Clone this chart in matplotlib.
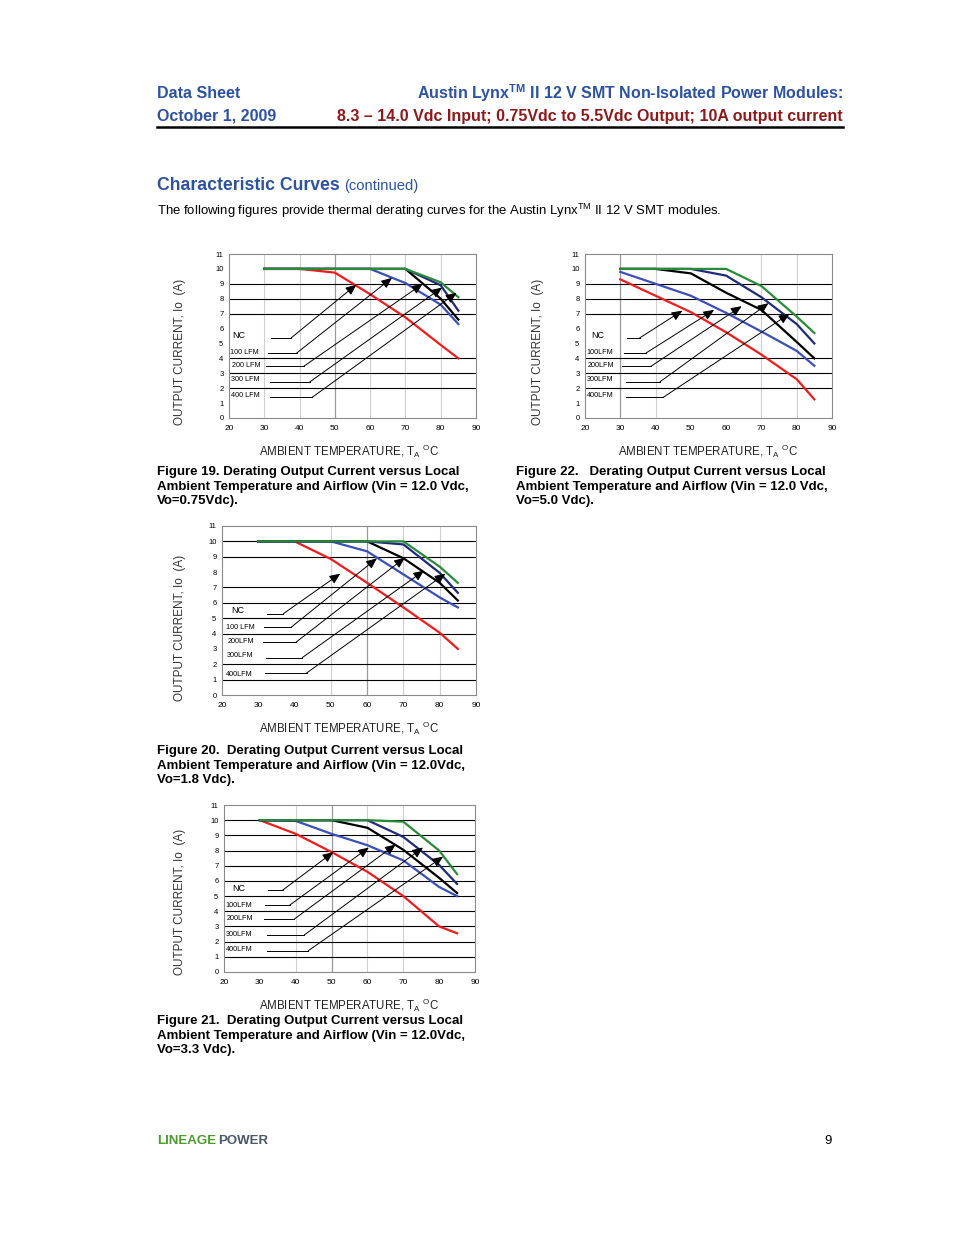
import matplotlib
matplotlib.use('Agg')
import matplotlib.pyplot as plt
from matplotlib.lines import Line2D

plt.rcParams['font.family'] = ['Liberation Sans', 'DejaVu Sans']
plt.rcParams['mathtext.fontset'] = 'custom'
plt.rcParams['mathtext.rm'] = 'Liberation Sans'
plt.rcParams['mathtext.bf'] = 'Liberation Sans:bold'

# temperatures shared by every curve (deg C)
temps = [30, 40, 50, 60, 70, 80, 85]
labels_space = ['NC', '100 LFM', '200 LFM', '300 LFM', '400 LFM']
labels_tight = ['NC', '100LFM', '200LFM', '300LFM', '400LFM']

# Figure 19, Vo = 0.75 V
f19_nc = [10, 10, 9.75, 8.3, 6.75, 4.9, 4.0]
f19_100 = [10, 10, 10, 10, 9.05, 7.6, 6.3]
f19_200 = [10, 10, 10, 10, 10, 8.0, 6.6]
f19_300 = [10, 10, 10, 10, 10, 8.9, 7.2]
f19_400 = [10, 10, 10, 10, 10, 9.1, 8.1]

# Figure 22, Vo = 5.0 V
f22_nc = [9.3, 8.2, 7.1, 5.75, 4.25, 2.6, 1.25]
f22_100 = [9.8, 9.0, 8.2, 7.05, 5.8, 4.5, 3.5]
f22_200 = [10, 10, 9.7, 8.4, 7.25, 5.1, 4.0]
f22_300 = [10, 10, 10, 9.55, 8.1, 6.3, 5.0]
f22_400 = [10, 10, 10, 10, 8.85, 6.8, 5.7]

# Figure 20, Vo = 1.8 V
f20_nc = [10, 10, 8.85, 7.3, 5.7, 4.05, 3.0]
f20_100 = [10, 10, 10, 9.35, 7.85, 6.35, 5.7]
f20_200 = [10, 10, 10, 10, 8.9, 7.3, 6.15]
f20_300 = [10, 10, 10, 10, 9.8, 7.95, 6.65]
f20_400 = [10, 10, 10, 10, 10, 8.35, 7.3]

# Figure 21, Vo = 3.3 V
f21_nc = [10, 9.1, 7.9, 6.6, 5.0, 3.0, 2.55]
f21_100 = [10, 9.95, 9.1, 8.35, 7.35, 5.6, 5.0]
f21_200 = [10, 10, 10, 9.5, 8.05, 6.2, 5.2]
f21_300 = [10, 10, 10, 10, 8.9, 7.05, 5.8]
f21_400 = [10, 10, 10, 10, 9.9, 8.0, 6.45]

# arrow callouts: label line y, line start/end x, arrow tip
f19_line_y = [5.37, 4.36, 3.47, 2.42, 1.39]
f19_line_x0 = [32.0, 31.1, 30.6, 31.5, 31.5]
f19_line_x1 = [37.6, 39.2, 41.2, 42.9, 43.6]
f19_tip_x = [56.1, 66.2, 74.9, 80.4, 84.5]
f19_tip_y = [8.95, 9.4, 9.0, 8.75, 8.4]
f19_text_x = [21.0, 20.2, 20.8, 20.5, 20.5]
f19_text_y = [5.5, 4.4, 3.55, 2.55, 1.5]

f22_line_y = [5.37, 4.36, 3.47, 2.42, 1.39]
f22_line_x0 = [31.9, 31.0, 30.6, 31.5, 31.5]
f22_line_x1 = [35.5, 37.3, 38.7, 41.2, 42.2]
f22_tip_x = [47.6, 56.6, 64.4, 72.0, 78.0]
f22_tip_y = [7.2, 7.25, 7.5, 7.7, 7.0]
f22_text_x = [21.8, 20.4, 20.7, 20.4, 20.4]
f22_text_y = [5.5, 4.4, 3.55, 2.55, 1.5]

f20_line_y = [5.29, 4.4, 3.42, 2.43, 1.43]
f20_line_x0 = [32.4, 31.5, 31.2, 32.1, 31.9]
f20_line_x1 = [36.9, 39.0, 40.3, 42.1, 43.3]
f20_tip_x = [52.6, 62.7, 70.4, 75.7, 81.6]
f20_tip_y = [7.9, 8.9, 8.94, 8.1, 7.9]
f20_text_x = [22.6, 21.0, 21.5, 21.2, 21.2]
f20_text_y = [5.53, 4.4, 3.5, 2.55, 1.35]

f21_line_y = [5.4, 4.4, 3.47, 2.44, 1.4]
f21_line_x0 = [32.4, 31.5, 31.1, 32.0, 32.0]
f21_line_x1 = [36.4, 38.3, 39.5, 42.4, 43.5]
f21_tip_x = [50.5, 60.4, 67.9, 75.5, 81.1]
f21_tip_y = [7.9, 8.2, 8.4, 8.2, 7.6]
f21_text_x = [22.2, 20.5, 20.8, 20.5, 20.5]
f21_text_y = [5.5, 4.4, 3.5, 2.5, 1.45]

# grid lines that are actually drawn on each chart
f19_hgrid = [2, 3, 4, 7, 8, 9]
f22_hgrid = [2, 3, 4, 7, 8, 9]
f20_hgrid = [1, 2, 4, 5, 6, 7, 9, 10]
f21_hgrid = [1, 2, 3, 4, 5, 6, 7, 8, 9, 10]
f19_vgrid, f19_vdark = [30, 40, 60, 70, 80], [50]
f22_vgrid, f22_vdark = [40, 70, 80], [30]
f20_vgrid, f20_vdark = [50, 70, 80], [60]
f21_vgrid, f21_vdark = [40, 60, 70], [50]

colors = ['#ee1c1c', '#3a4fb8', 'black', '#1f2a78', '#2a8a3a']

W, H = 954, 1235
fig = plt.figure(figsize=(W / 100, H / 100), dpi=100)


def px_axes(l, r, t, b):
    return fig.add_axes([l / W, 1 - b / H, (r - l) / W, (b - t) / H])


def ftext(x, y, s, **kw):
    fig.text(x / W, 1 - y / H, s, **kw)


def draw_chart(ax, curves, hgrid, vgrid, vdark, labels, line_y, x0, x1, tip_x, tip_y, text_x, text_y):
    for v in vgrid:
        ax.axvline(v, color='#cfcfcf', lw=0.8, zorder=1)
    for v in vdark:
        ax.axvline(v, color='#9a9a9a', lw=0.9, zorder=1)
    for h in hgrid:
        ax.axhline(h, color='black', lw=0.8, zorder=1)
    for cur, c in zip(curves, colors):
        ax.plot(temps, cur, color=c, lw=1.6, zorder=3)
    for i in range(len(labels)):
        ax.text(text_x[i], text_y[i], labels[i], fontsize=5.2 if i else 6.5,
                va='center', ha='left', zorder=4)
        ax.plot([x0[i], x1[i]], [line_y[i], line_y[i]], color='black', lw=0.7, zorder=4)
        ax.annotate('', xy=(tip_x[i], tip_y[i]), xytext=(x1[i], line_y[i]),
                    arrowprops=dict(arrowstyle='-|>,head_length=0.65,head_width=0.28',
                                    color='black', lw=0.7, shrinkA=0, shrinkB=0,
                                    mutation_scale=10), zorder=5)
    ax.set_xlim(20, 90)
    ax.set_ylim(0, 11)
    ax.set_xticks(range(20, 91, 10))
    ax.set_yticks(range(0, 12))
    ax.tick_params(axis='x', length=0, labelsize=6, pad=5)
    ax.tick_params(axis='y', length=0, labelsize=5.5, pad=4)
    for s in ax.spines.values():
        s.set_color('#8a8a8a')
        s.set_linewidth(0.8)


ax19 = px_axes(229, 476, 254, 418)
draw_chart(ax19, [f19_nc, f19_100, f19_200, f19_300, f19_400], f19_hgrid, f19_vgrid, f19_vdark,
           labels_space, f19_line_y, f19_line_x0, f19_line_x1, f19_tip_x, f19_tip_y, f19_text_x, f19_text_y)
ax22 = px_axes(585, 832, 254, 418)
draw_chart(ax22, [f22_nc, f22_100, f22_200, f22_300, f22_400], f22_hgrid, f22_vgrid, f22_vdark,
           labels_tight, f22_line_y, f22_line_x0, f22_line_x1, f22_tip_x, f22_tip_y, f22_text_x, f22_text_y)
ax20 = px_axes(222, 476, 526, 695)
draw_chart(ax20, [f20_nc, f20_100, f20_200, f20_300, f20_400], f20_hgrid, f20_vgrid, f20_vdark,
           ['NC', '100 LFM', '200LFM', '300LFM', '400LFM'], f20_line_y, f20_line_x0, f20_line_x1,
           f20_tip_x, f20_tip_y, f20_text_x, f20_text_y)
ax21 = px_axes(224, 475, 805, 972)
draw_chart(ax21, [f21_nc, f21_100, f21_200, f21_300, f21_400], f21_hgrid, f21_vgrid, f21_vdark,
           labels_tight, f21_line_y, f21_line_x0, f21_line_x1, f21_tip_x, f21_tip_y, f21_text_x, f21_text_y)

# axis titles
ylab = 'OUTPUT CURRENT, Io  (A)'
xlab = r'AMBIENT TEMPERATURE, T$_{\mathrm{A}}$ $^{\mathrm{O}}$C'
for x, y in [(180, 352), (538, 352), (180, 628), (180, 902)]:
    ftext(x, y, ylab, rotation=90, ha='center', va='center', fontsize=8.5, color='#333333')
for x, y in [(349, 451), (708, 451), (349, 728), (349, 1005)]:
    ftext(x, y, xlab, ha='center', va='center', fontsize=8.3, color='#222222')

# captions
cap = dict(fontsize=9.55, fontweight='bold', va='top', ha='left', linespacing=1.28)
ftext(157, 466, 'Figure 19. Derating Output Current versus Local\n'
      'Ambient Temperature and Airflow (Vin = 12.0 Vdc,\nVo=0.75Vdc).', **cap)
ftext(516, 466, 'Figure 22.   Derating Output Current versus Local\n'
      'Ambient Temperature and Airflow (Vin = 12.0 Vdc,\nVo=5.0 Vdc).', **cap)
ftext(157, 745, 'Figure 20.  Derating Output Current versus Local\n'
      'Ambient Temperature and Airflow (Vin = 12.0Vdc,\nVo=1.8 Vdc).', **cap)
ftext(157, 1015, 'Figure 21.  Derating Output Current versus Local\n'
      'Ambient Temperature and Airflow (Vin = 12.0Vdc,\nVo=3.3 Vdc).', **cap)

# page header
blue = '#2c52a0'
ftext(157, 93, 'Data Sheet', fontsize=11.5, fontweight='bold', color=blue, va='center')
ftext(157, 116, 'October 1, 2009', fontsize=11.5, fontweight='bold', color=blue, va='center')
ftext(843, 93, r'Austin Lynx$^{\mathbf{TM}}$ II 12 V SMT Non-Isolated Power Modules:',
      fontsize=11.5, fontweight='bold', color=blue, va='center', ha='right')
ftext(843, 116, '8.3 \u2013 14.0 Vdc Input; 0.75Vdc to 5.5Vdc Output; 10A output current',
      fontsize=11.5, fontweight='bold', color='#8c1a1a', va='center', ha='right')
fig.add_artist(Line2D([157 / W, 843 / W], [1 - 127 / H] * 2, color='black', lw=1.8))

ftext(157, 185, 'Characteristic Curves', fontsize=12.7, fontweight='bold', color=blue, va='center')
ftext(344, 186, '(continued)', fontsize=10.6, color=blue, va='center')
ftext(157, 211, r'The following figures provide thermal derating curves for the Austin Lynx$^{\mathrm{TM}}$ II 12 V SMT modules.',
      fontsize=9.45, va='center')

# footer
ftext(157, 1141, 'LINEAGE', fontsize=9.5, fontweight='bold', color='#4e9a2e', va='center')
ftext(218, 1141, 'POWER', fontsize=9.5, fontweight='bold', color='#4a5868', va='center')
ftext(832, 1141, '9', fontsize=9.5, va='center', ha='right')

fig.savefig('out.png', dpi=100)
